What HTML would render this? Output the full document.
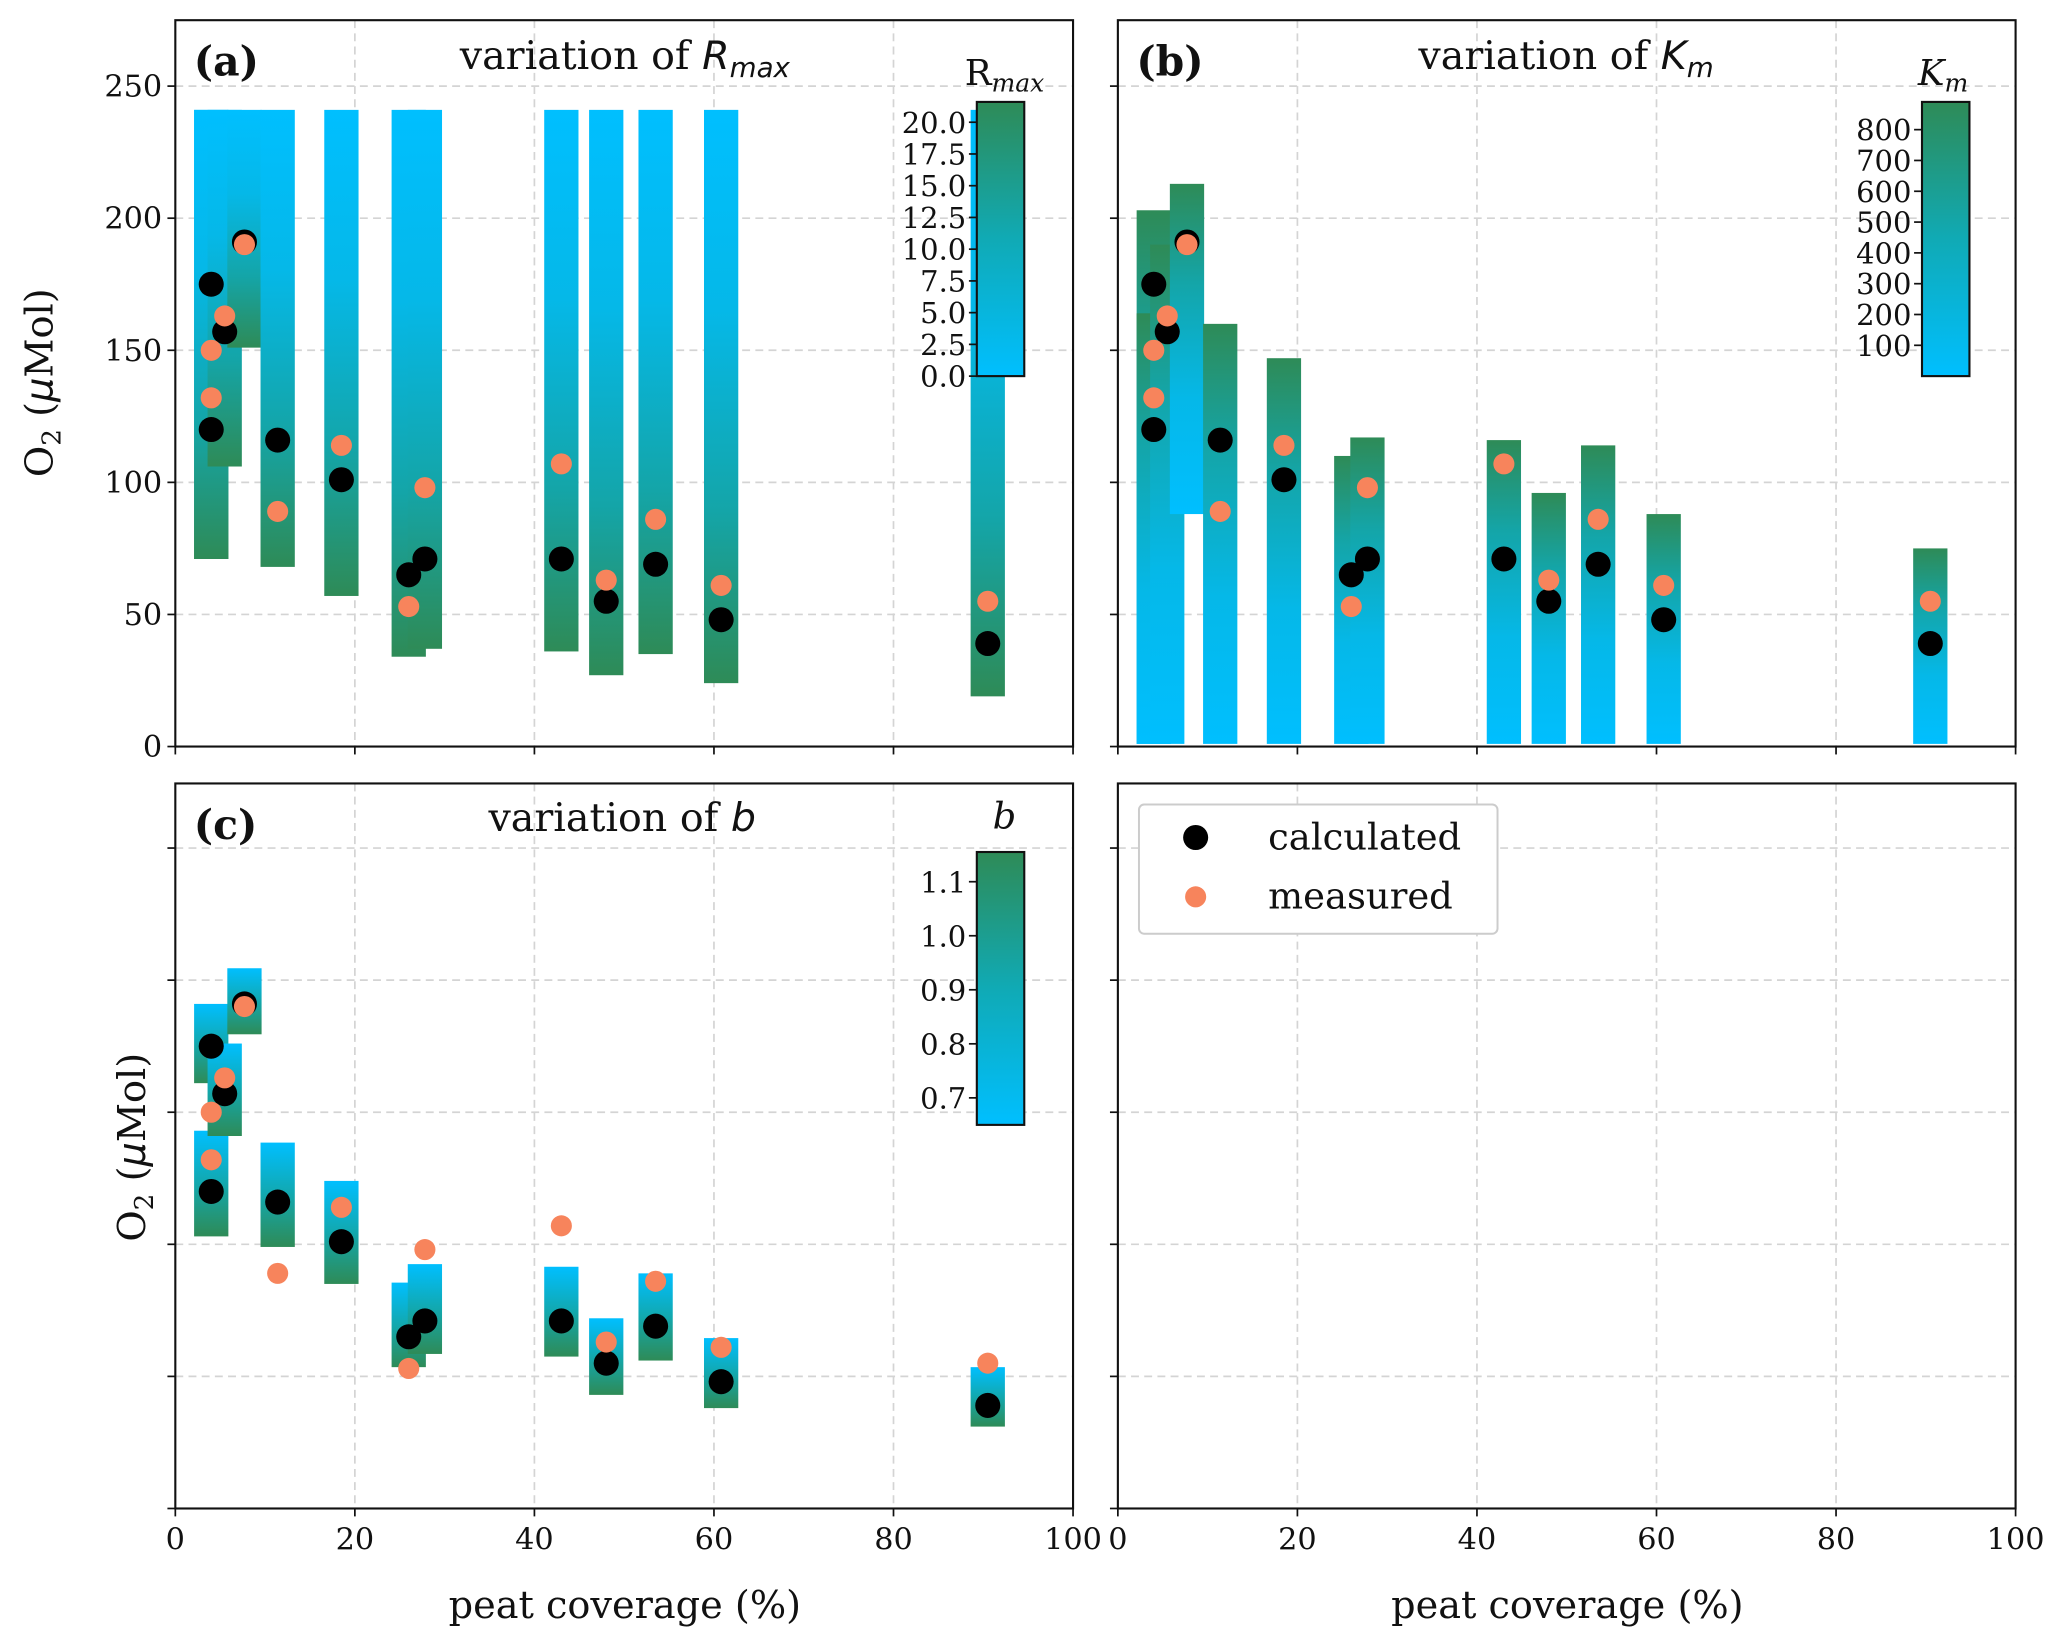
<!DOCTYPE html>
<html><head><meta charset="utf-8"><style>
html,body{margin:0;padding:0;background:#fff}
svg{display:block}
text{font-family:"DejaVu Serif","Liberation Serif",serif;fill:#111}
</style></head><body>
<svg id="chart" width="2067" height="1646" viewBox="0 0 1568 1248" xmlns="http://www.w3.org/2000/svg">
<defs>
<linearGradient id="cbar" x1="0" y1="1" x2="0" y2="0"><stop offset="0" stop-color="#00bfff"/><stop offset="0.5" stop-color="#10aab5"/><stop offset="1" stop-color="#2e8b57"/></linearGradient>
<linearGradient id="gDown" x1="0" y1="0" x2="0" y2="1"><stop offset="0" stop-color="#00bfff"/><stop offset="0.35" stop-color="#05b8e8"/><stop offset="0.7" stop-color="#14a5a8"/><stop offset="1" stop-color="#2e8b57"/></linearGradient>
<linearGradient id="gUp" x1="0" y1="1" x2="0" y2="0"><stop offset="0" stop-color="#00bfff"/><stop offset="0.35" stop-color="#05b8e8"/><stop offset="0.7" stop-color="#14a5a8"/><stop offset="1" stop-color="#2e8b57"/></linearGradient>
<linearGradient id="gC" x1="0" y1="0" x2="0" y2="1"><stop offset="0" stop-color="#00bfff"/><stop offset="0.5" stop-color="#12a8ae"/><stop offset="1" stop-color="#2e8b57"/></linearGradient>
</defs>
</svg>
<script>
const peat = [4, 4, 5.5, 7.7, 11.4, 18.5, 26, 27.8, 43, 48, 53.5, 60.8, 90.5];
const calculated = [175, 120, 157, 191, 116, 101, 65, 71, 71, 55, 69, 48, 39];
const measured = [150, 132, 163, 190, 89, 114, 53, 98, 107, 63, 86, 61, 55];
const rmaxTop = [241, 241, 241, 241, 241, 241, 241, 241, 241, 241, 241, 241, 241];
const rmaxBottom = [71, 71, 106, 151, 68, 57, 34, 37, 36, 27, 35, 24, 19];
const kmTop = [203, 164, 190, 213, 160, 147, 110, 117, 116, 96, 114, 88, 75];
const kmBottom = [1, 1, 1, 88, 1, 1, 1, 1, 1, 1, 1, 1, 1];
const bTop = [191, 143, 176, 204.5, 138.5, 124, 85.5, 92.5, 91.5, 72, 89, 64.5, 53.5];
const bBottom = [161, 103, 141, 179.5, 99, 85, 53.5, 58.5, 57.5, 43, 56, 38, 31];
const xTicks = [0, 20, 40, 60, 80, 100];
const yTicks = [0, 50, 100, 150, 200, 250];
const cbRmaxTicks = ["0.0","2.5","5.0","7.5","10.0","12.5","15.0","17.5","20.0"];
const cbKmTicks = [100,200,300,400,500,600,700,800];
const cbBTicks = ["0.7","0.8","0.9","1.0","1.1"];

const svg = document.getElementById('chart');
const NS = 'http://www.w3.org/2000/svg';
function mk(tag, attrs, parent, text){const e=document.createElementNS(NS,tag);for(const k in attrs)e.setAttribute(k,attrs[k]);if(text!==undefined)e.textContent=text;(parent||svg).appendChild(e);return e;}

const panels = {
 a:{x0:133,x1:814,y0:15,y1:566},
 b:{x0:848,x1:1529,y0:15,y1:566},
 c:{x0:133,x1:814,y0:594,y1:1144},
 d:{x0:848,x1:1529,y0:594,y1:1144}
};
function sx(p,v){return p.x0+(v/100)*(p.x1-p.x0);}
function sy(p,v){return p.y1-v*2.004;}

function axes(key,p,ylabels,xlabels){
  const g=mk('g',{});
  
  
  xTicks.forEach(t=>{const x=sx(p,t);
    if(t>0&&t<100){const gl=mk('line',{x1:x,x2:x,y1:p.y0,y2:p.y1,stroke:'#d4d4d4','stroke-width':1.3,'stroke-dasharray':'6,4'},g);}
    mk('line',{x1:x,x2:x,y1:p.y1,y2:p.y1+6,stroke:'#111','stroke-width':1.3},g);
    if(xlabels){const tl=mk('text',{x:x,y:p.y1+31,'font-size':23,'text-anchor':'middle'},g,String(t));}
  });
  yTicks.forEach(t=>{const y=sy(p,t);
    if(y>p.y0+2&&t>0){const gl=mk('line',{x1:p.x0,x2:p.x1,y1:y,y2:y,stroke:'#d4d4d4','stroke-width':1.3,'stroke-dasharray':'6,4'},g);}
    mk('line',{x1:p.x0-6,x2:p.x0,y1:y,y2:y,stroke:'#111','stroke-width':1.3},g);
    if(ylabels){const tl=mk('text',{x:p.x0-10,y:y+8,'font-size':23,'text-anchor':'end'},g,String(t));}
  });
  return g;
}
function frame(key,p){const r=mk('rect',{x:p.x0,y:p.y0,width:p.x1-p.x0,height:p.y1-p.y0,fill:'none',stroke:'#111','stroke-width':1.6});}

function bars(key,p,tops,bottoms,grad){
  peat.forEach((v,i)=>{
    const x=sx(p,v)-13, yt=sy(p,tops[i]), yb=sy(p,bottoms[i]);
    const r=mk('rect',{x:x,y:yt,width:26,height:yb-yt,fill:'url(#'+grad+')'});
    
    
  });
}
function points(p){
  peat.forEach((v,i)=>{
    const c=mk('circle',{cx:sx(p,v),cy:sy(p,calculated[i]),r:9.5,fill:'#000'});
    
    
  });
  peat.forEach((v,i)=>{
    const c=mk('circle',{cx:sx(p,v),cy:sy(p,measured[i]),r:8,fill:'#f7845c'});
    
    
  });
}
function colorbar(key,x,yTop,yBot,ticks,vmin,vmax){
  const r=mk('rect',{x:x,y:yTop,width:36,height:yBot-yTop,fill:'url(#cbar)',stroke:'#111','stroke-width':1.6});
  
  
  ticks.forEach(t=>{const y=yBot-(parseFloat(t)-vmin)/(vmax-vmin)*(yBot-yTop);
    mk('line',{x1:x-6,x2:x,y1:y,y2:y,stroke:'#111','stroke-width':1.3});
    const tl=mk('text',{x:x-8,y:y+8,'font-size':22,'text-anchor':'end'},svg,String(t));
    
    
  });
}

const A=panels.a,B=panels.b,C=panels.c,D=panels.d;
axes('a',A,true,false); axes('b',B,false,false); axes('c',C,false,true); axes('d',D,false,true);
bars('a',A,rmaxTop,rmaxBottom,'gDown');
bars('b',B,kmTop,kmBottom,'gUp');
bars('c',C,bTop,bBottom,'gC');
points(A); points(B); points(C);
colorbar('rmax',741,77,285,cbRmaxTicks,0,21.6);
colorbar('km',1458,77,285,cbKmTicks,0,890);
colorbar('b',741,646,853,cbBTicks,0.65,1.155);
['a','b','c','d'].forEach(k=>frame(k,panels[k]));
</script>
<svg style="position:absolute;left:0;top:0" width="2067" height="1646" viewBox="0 0 1568 1248" xmlns="http://www.w3.org/2000/svg">
<g font-family="DejaVu Serif, Liberation Serif, serif" fill="#111">
<text x="147" y="57" font-size="31" font-weight="bold">(a)</text>
<text x="474" y="52" font-size="30" text-anchor="middle">variation of <tspan font-style="italic" font-family="DejaVu Sans, sans-serif">R</tspan><tspan font-style="italic" font-family="DejaVu Sans, sans-serif" font-size="21" dy="6">max</tspan></text>
<text x="762" y="64" font-size="27" text-anchor="middle" font-family="DejaVu Sans, sans-serif">R<tspan font-style="italic" font-size="19" dy="5">max</tspan></text>
<text x="862" y="57" font-size="31" font-weight="bold">(b)</text>
<text x="1188" y="52" font-size="30" text-anchor="middle">variation of <tspan font-style="italic" font-family="DejaVu Sans, sans-serif">K</tspan><tspan font-style="italic" font-family="DejaVu Sans, sans-serif" font-size="21" dy="6">m</tspan></text>
<text x="1474" y="64" font-size="27" text-anchor="middle" font-family="DejaVu Sans, sans-serif" font-style="italic">K<tspan font-size="19" dy="5">m</tspan></text>
<text x="147" y="636" font-size="31" font-weight="bold">(c)</text>
<text x="472" y="630" font-size="30" text-anchor="middle">variation of <tspan font-style="italic" font-family="DejaVu Sans, sans-serif">b</tspan></text>
<text x="762" y="628" font-size="28" text-anchor="middle" font-family="DejaVu Sans, sans-serif" font-style="italic">b</text>
<text transform="translate(40,290) rotate(-90)" font-size="29" text-anchor="middle">O<tspan font-size="20" dy="6">2</tspan><tspan dy="-6"> (</tspan><tspan font-style="italic" font-family="DejaVu Sans, sans-serif">μ</tspan>Mol)</text>
<text transform="translate(110,870) rotate(-90)" font-size="29" text-anchor="middle">O<tspan font-size="20" dy="6">2</tspan><tspan dy="-6"> (</tspan><tspan font-style="italic" font-family="DejaVu Sans, sans-serif">μ</tspan>Mol)</text>
<text x="474" y="1227" font-size="29" text-anchor="middle">peat coverage (%)</text>
<text x="1189" y="1227" font-size="29" text-anchor="middle">peat coverage (%)</text>
<g>
<rect x="864" y="610" width="272" height="98" rx="4" fill="#fff" stroke="#ccc" stroke-width="1.5"/>
<circle cx="907" cy="635" r="9.5" fill="#000"/>
<text x="962" y="644" font-size="28">calculated</text>
<circle cx="907" cy="680" r="8" fill="#f7845c"/>
<text x="962" y="689" font-size="28">measured</text>
</g>
</g>
</svg>
</body></html>
